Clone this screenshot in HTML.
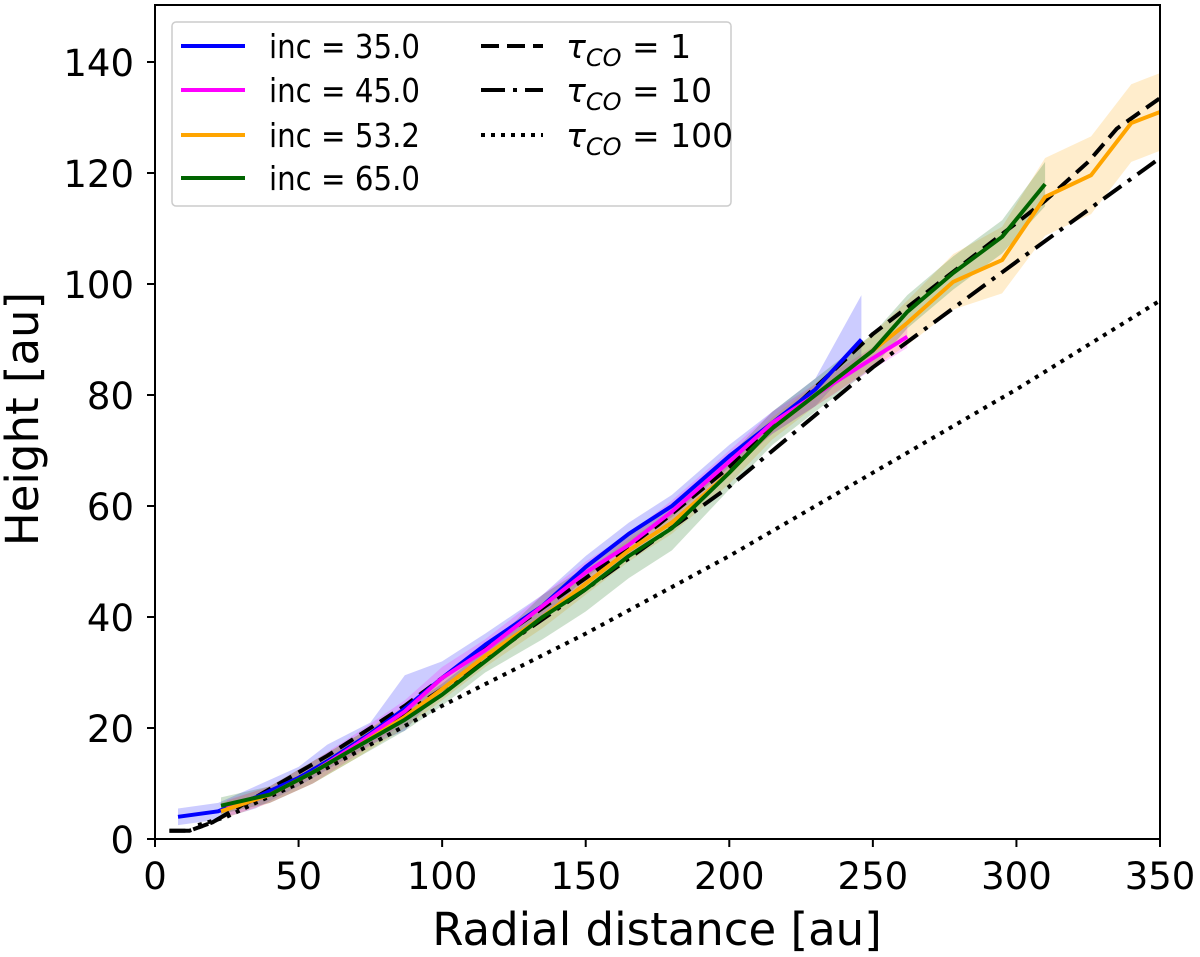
<!DOCTYPE html>
<html><head><meta charset="utf-8"><style>
html,body{margin:0;padding:0;background:#fff;}
svg{display:block;font-family:"DejaVu Sans","Liberation Sans",sans-serif;}
</style></head><body>
<svg id="chart" width="1200" height="957" viewBox="0 0 1200 957" xmlns="http://www.w3.org/2000/svg">
<g id="bands"></g>
<g id="lines"></g>
<g id="axes"></g>
<g id="legend"></g>
</svg>
<script>
const xTicks = [0,50,100,150,200,250,300,350];
const yTicks = [0,20,40,60,80,100,120,140];

const blueX = [8,22,35,50,60,75,87,100,115,135,150,165,180,200,215,230,246];
const blueY = [4,5,7.5,11,14,19,23.5,29,35,42,49,55,60,69,75,81,90];
const blueUp = [1.5,1.5,2,2,3,2,6,3,2,2,2,2,2,2,2,2,8];
const blueDn = [1.5,1.5,2,1.5,1.5,2,4,2,2,2,2,2,2,2,2,3,3];

const pinkX = [25,40,55,70,87,100,115,135,150,165,180,200,215,230,245,262];
const pinkY = [5.5,8,12,17,23,29,34,42,48,53,59,68,75,80,85,90.5];
const pinkErr = [1.5,1.5,2,2,2,2,2,2,2,2,2,2,2,2,2,2];

const orangeX = [23,40,55,70,87,100,115,135,150,165,180,200,215,230,250,262,278,295,310,326,340,350];
const orangeY = [5,8,12,16.5,22,27,33,40,46,52,57,66,74,80,88,93,100.4,104.3,115.7,119.6,129,131];
const orangeErr = [1.5,1.5,2,2,2,2,2,2,2,2,2,2,2,2,3,4,5,6,7,7,7,7];

const greenX = [23,40,55,70,87,100,115,135,150,165,180,200,215,230,250,262,278,295,310];
const greenY = [6,8,12,16.5,21.5,26,32,40,45,51,56,66,74,80,88,95,102,108.5,118];
const greenErr = [1.5,1.5,2,2,2,2,2,4,4,4,4,3,3,3,3,3,3,3,4];

const tau1X = [5,12,20,30,40,50,60,75,87,100,125,150,175,200,225,250,275,300,310,325,335,350];
const tau1Y = [1.5,1.5,3,6,9,12,15,20,24,29,38,47,56.5,67,79,91,101,111,115,122,128,133.5];
const tau10X = [5,12,20,30,50,75,100,150,200,250,300,350];
const tau10Y = [1.5,1.5,3,6,11,18.5,27,45,63.5,85,104,122.7];
const tau100X = [15,25,35,50,75,100,150,200,250,300,350];
const tau100Y = [2.5,4,6.5,10,17,24,37,51,66,81,97];

const x0=155,x1=1160,yb=839,yt=5;
const sx=v=>x0+v*(x1-x0)/350;
const sy=v=>yb-v*(yb-62)/140;
const NS="http://www.w3.org/2000/svg";
function mk(tag,parent,attrs){const e=document.createElementNS(NS,tag);for(const k in attrs)e.setAttribute(k,attrs[k]);parent.appendChild(e);return e;}
const pts=(xs,ys)=>xs.map((x,i)=>sx(x).toFixed(1)+","+sy(ys[i]).toFixed(1)).join(" ");

const bands=document.getElementById('bands'), lines=document.getElementById('lines');
function band(xs,ys,up,dn,color,name){
  const top=xs.map((x,i)=>sx(x).toFixed(1)+","+sy(ys[i]+up[i]).toFixed(1));
  const bot=xs.map((x,i)=>sx(x).toFixed(1)+","+sy(ys[i]-dn[i]).toFixed(1)).reverse();
  const p=mk('polygon',bands,{points:top.concat(bot).join(" "),fill:color,'fill-opacity':0.2,stroke:'none'});
  
  
}
band(blueX,blueY,blueUp,blueDn,'#0000ff','band-inc-35');
band(pinkX,pinkY,pinkErr,pinkErr,'#ff00ff','band-inc-45');
band(orangeX,orangeY,orangeErr,orangeErr,'#ffa500','band-inc-53');
band(greenX,greenY,greenErr,greenErr,'#006400','band-inc-65');

function line(xs,ys,color,dash,name,w){
  const p=mk('polyline',lines,{points:pts(xs,ys),fill:'none',stroke:color,'stroke-width':w||4,'stroke-linejoin':'round'});
  if(dash)p.setAttribute('stroke-dasharray',dash);
  
  
}
line(tau100X,tau100Y,'#000','4 6','line-tau-100');
line(tau10X,tau10Y,'#000','22 8 4 8','line-tau-10');
line(tau1X,tau1Y,'#000','16 8','line-tau-1');
line(blueX,blueY,'#0000ff',null,'line-inc-35');
line(pinkX,pinkY,'#ff00ff',null,'line-inc-45');
line(orangeX,orangeY,'#ffa500',null,'line-inc-53');
line(greenX,greenY,'#006400',null,'line-inc-65');

const axes=document.getElementById('axes');
const fr=mk('rect',axes,{x:x0,y:yt,width:x1-x0,height:yb-yt,fill:'none',stroke:'#000','stroke-width':2});


xTicks.forEach(v=>{
  mk('line',axes,{x1:sx(v),x2:sx(v),y1:yb,y2:yb+8,stroke:'#000','stroke-width':2});
  const t=mk('text',axes,{x:sx(v),y:889,'text-anchor':'middle','font-size':37});
  t.textContent=v;
  
  
});
yTicks.forEach(v=>{
  mk('line',axes,{x1:x0-8,x2:x0,y1:sy(v),y2:sy(v),stroke:'#000','stroke-width':2});
  const t=mk('text',axes,{x:134,y:sy(v)+14,'text-anchor':'end','font-size':37});
  t.textContent=v;
  
  
});
const xt=mk('text',axes,{x:657,y:945,'text-anchor':'middle','font-size':45});
xt.textContent='Radial distance [au]';


const yl=mk('text',axes,{x:0,y:0,'text-anchor':'middle','font-size':45,transform:'translate(38,419) rotate(-90)'});
yl.textContent='Height [au]';



const lg=document.getElementById('legend');
const box=mk('rect',lg,{x:172,y:22,width:559,height:184,rx:4,fill:'#fff','fill-opacity':0.85,stroke:'#ccc','stroke-width':1.5});


const leftE=[['#0000ff','inc = 35.0'],['#ff00ff','inc = 45.0'],['#ffa500','inc = 53.2'],['#006400','inc = 65.0']];
const ys=[46,90,135,178];
leftE.forEach((e,i)=>{
  const g=mk('g',lg,{});
  
  
  mk('line',g,{x1:181,x2:245,y1:ys[i],y2:ys[i],stroke:e[0],'stroke-width':4});
  const t=mk('text',g,{x:269,y:ys[i]+12,'font-size':33,textLength:151,lengthAdjust:'spacingAndGlyphs'});t.textContent=e[1];
});
const rightE=[['18 8','1',115],['24 8 4 8','10',136],['4 6','100',157]];
rightE.forEach((e,i)=>{
  const g=mk('g',lg,{});
  
  
  mk('line',g,{x1:481,x2:543,y1:ys[i],y2:ys[i],stroke:'#000','stroke-width':4,'stroke-dasharray':e[0]});
  const t=mk('text',g,{x:566,y:ys[i]+12,'font-size':33});
  const a=mk('tspan',t,{'font-style':'italic'});a.textContent='τ';
  const b=mk('tspan',t,{'font-style':'italic','font-size':24,dy:8});b.textContent='CO';
  const c=mk('tspan',t,{dy:-8});c.textContent=' = '+e[1];
});
</script>
</body></html>
